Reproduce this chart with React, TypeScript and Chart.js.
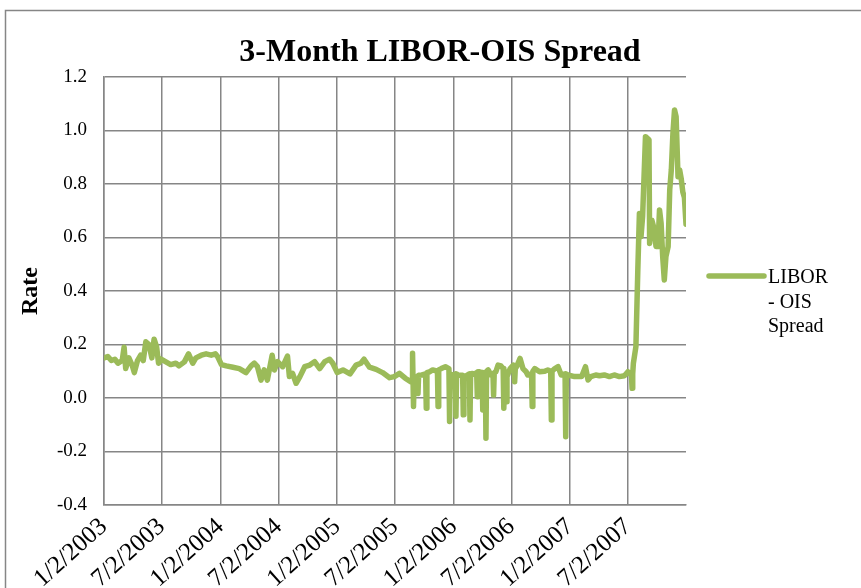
import React, { useEffect, useRef } from "react";
import { Chart, registerables } from "chart.js";

Chart.register(...registerables);

const chartTitle = "3-Month LIBOR-OIS Spread";
const seriesName = "LIBOR - OIS Spread";
const legendLines = ["LIBOR", "- OIS", "Spread"];
const yAxisTitle = "Rate";

const xTickLabels = [
  "1/2/2003", "7/2/2003", "1/2/2004", "7/2/2004", "1/2/2005",
  "7/2/2005", "1/2/2006", "7/2/2006", "1/2/2007", "7/2/2007",
];
const xAxisEnd = "12/31/2007";

const yMin = -0.4;
const yMax = 1.2;
const yStep = 0.2;

const dates = [
  "1/2/2003", "1/14/2003", "1/25/2003", "2/5/2003", "2/15/2003", "2/28/2003", "3/6/2003", "3/11/2003",
  "3/21/2003", "4/1/2003", "4/7/2003", "4/17/2003", "4/27/2003", "5/5/2003", "5/13/2003", "5/23/2003",
  "6/1/2003", "6/8/2003", "6/16/2003", "6/22/2003", "6/30/2003", "7/15/2003", "7/30/2003", "8/15/2003",
  "8/25/2003", "9/11/2003", "9/24/2003", "10/7/2003", "10/17/2003", "11/3/2003", "11/18/2003", "12/4/2003",
  "12/17/2003", "12/24/2003", "1/5/2004", "1/20/2004", "2/10/2004", "3/1/2004", "3/22/2004", "4/7/2004",
  "4/17/2004", "4/27/2004", "5/8/2004", "5/18/2004", "5/28/2004", "6/12/2004", "6/19/2004", "6/29/2004",
  "7/15/2004", "7/30/2004", "8/5/2004", "8/15/2004", "8/26/2004", "9/7/2004", "9/22/2004", "10/8/2004",
  "10/23/2004", "11/8/2004", "11/24/2004", "12/9/2004", "12/19/2004", "1/2/2005", "1/20/2005", "2/11/2005",
  "3/2/2005", "3/17/2005", "3/27/2005", "4/13/2005", "5/4/2005", "5/24/2005", "6/15/2005", "6/30/2005",
  "7/16/2005", "8/3/2005", "8/20/2005", "8/25/2005", "8/26/2005", "8/29/2005", "8/31/2005", "9/7/2005",
  "9/10/2005", "9/12/2005", "9/14/2005", "9/24/2005", "10/6/2005", "10/8/2005", "10/10/2005", "10/18/2005",
  "10/28/2005", "11/12/2005", "11/14/2005", "11/16/2005", "11/24/2005", "12/7/2005", "12/18/2005", "12/20/2005",
  "12/22/2005", "12/30/2005", "1/7/2006", "1/9/2006", "1/11/2006", "1/15/2006", "1/30/2006", "2/1/2006",
  "2/3/2006", "2/6/2006", "2/20/2006", "2/22/2006", "2/24/2006", "3/2/2006", "3/9/2006", "3/15/2006",
  "3/17/2006", "3/19/2006", "3/22/2006", "4/1/2006", "4/3/2006", "4/5/2006", "4/8/2006", "4/11/2006",
  "4/13/2006", "4/15/2006", "4/20/2006", "4/29/2006", "5/5/2006", "5/7/2006", "5/9/2006", "5/14/2006",
  "5/21/2006", "5/30/2006", "6/6/2006", "6/8/2006", "6/12/2006", "6/15/2006", "6/18/2006", "6/20/2006",
  "6/28/2006", "7/8/2006", "7/10/2006", "7/12/2006", "7/14/2006", "7/18/2006", "7/29/2006", "8/7/2006",
  "8/17/2006", "8/22/2006", "9/3/2006", "9/5/2006", "9/7/2006", "9/13/2006", "9/28/2006", "10/14/2006",
  "10/24/2006", "11/2/2006", "11/4/2006", "11/6/2006", "11/15/2006", "11/25/2006", "12/5/2006", "12/17/2006",
  "12/19/2006", "12/21/2006", "12/26/2006", "1/16/2007", "2/7/2007", "2/19/2007", "2/27/2007", "3/8/2007",
  "3/23/2007", "4/4/2007", "4/19/2007", "5/5/2007", "5/20/2007", "6/5/2007", "6/21/2007", "7/2/2007",
  "7/6/2007", "7/13/2007", "7/15/2007", "7/17/2007", "7/19/2007", "7/27/2007", "8/2/2007", "8/7/2007",
  "8/12/2007", "8/17/2007", "8/26/2007", "9/6/2007", "9/8/2007", "9/15/2007", "9/23/2007", "9/28/2007",
  "10/4/2007", "10/9/2007", "10/14/2007", "10/19/2007", "10/24/2007", "10/29/2007", "11/5/2007", "11/10/2007",
  "11/15/2007", "11/20/2007", "11/25/2007", "11/30/2007", "12/6/2007", "12/11/2007", "12/16/2007", "12/21/2007",
  "12/26/2007", "12/31/2007",
];

const spread = [
  0.15, 0.155, 0.14, 0.145, 0.13, 0.14, 0.19, 0.11,
  0.15, 0.12, 0.095, 0.14, 0.16, 0.14, 0.21, 0.2,
  0.15, 0.22, 0.19, 0.13, 0.145, 0.135, 0.125, 0.13,
  0.12, 0.135, 0.165, 0.13, 0.15, 0.16, 0.165, 0.16,
  0.165, 0.155, 0.125, 0.12, 0.115, 0.11, 0.095, 0.12,
  0.13, 0.117, 0.067, 0.105, 0.067, 0.16, 0.105, 0.136,
  0.117, 0.157, 0.08, 0.092, 0.055, 0.08, 0.117, 0.123,
  0.136, 0.11, 0.136, 0.145, 0.13, 0.095, 0.105, 0.09,
  0.123, 0.13, 0.145, 0.115, 0.107, 0.095, 0.076, 0.08,
  0.092, 0.074, 0.061, 0.07, 0.167, -0.032, 0.07, 0.074,
  0.08, 0.017, 0.085, 0.086, 0.09, -0.038, 0.095, 0.098,
  0.105, 0.1, -0.032, 0.105, 0.11, 0.117, 0.11, -0.088,
  0.09, 0.086, 0.09, -0.068, 0.09, 0.086, 0.085, -0.063,
  0.08, 0.08, 0.09, -0.082, 0.09, 0.092, 0.088, 0.095,
  0.005, 0.098, 0.098, 0.095, -0.045, 0.092, 0.092, 0.095,
  -0.15, 0.1, 0.105, 0.086, 0.09, 0.011, 0.095, 0.098,
  0.123, 0.12, 0.11, -0.038, 0.1, -0.014, 0.08, 0.086,
  0.11, 0.123, 0.12, 0.061, 0.11, 0.117, 0.148, 0.11,
  0.098, 0.086, 0.09, -0.032, 0.1, 0.11, 0.098, 0.1,
  0.105, 0.1, -0.082, 0.1, 0.11, 0.117, 0.086, 0.09,
  -0.145, 0.09, 0.086, 0.08, 0.08, 0.117, 0.067, 0.08,
  0.086, 0.083, 0.086, 0.08, 0.086, 0.08, 0.083, 0.098,
  0.092, 0.085, 0.036, 0.09, 0.129, 0.192, 0.479, 0.69,
  0.603, 0.678, 0.977, 0.965, 0.578, 0.665, 0.628, 0.566,
  0.566, 0.703, 0.653, 0.528, 0.441, 0.528, 0.566, 0.778,
  0.853, 0.989, 1.077, 1.052, 0.827, 0.853, 0.82, 0.77,
  0.75, 0.65,
];

const FONT = '"Liberation Serif", "Times New Roman", serif';
const GRID = "#868686";
const LINE = "#9BBB59";

function dayIndex(s: string): number {
  const [m, d, y] = s.split("/").map(Number);
  return Math.round((Date.UTC(y, m - 1, d) - Date.UTC(2003, 0, 2)) / 86400000);
}

const decorPlugin = {
  id: "decor",
  beforeDraw(chart: any) {
    const ctx = chart.ctx;
    ctx.save();
    ctx.fillStyle = "#ffffff";
    ctx.fillRect(0, 0, chart.width, chart.height);
    ctx.restore();
  },
  afterDraw(chart: any) {
    const ctx = chart.ctx;
    const area = chart.chartArea;
    ctx.save();
    // outer frame
    ctx.strokeStyle = GRID;
    ctx.lineWidth = 1.5;
    ctx.strokeRect(5.5, 10.5, 1000, 1000);
    // title
    ctx.fillStyle = "#000";
    ctx.font = `bold 32px ${FONT}`;
    ctx.textAlign = "center";
    ctx.textBaseline = "alphabetic";
    ctx.fillText(chartTitle, 440, 61);
    // legend
    const ly = 276;
    const lx = area.right + 23;
    ctx.strokeStyle = chart.data.datasets[0].borderColor;
    ctx.lineWidth = 5.5;
    ctx.lineCap = "round";
    ctx.beginPath();
    ctx.moveTo(lx, ly);
    ctx.lineTo(lx + 55, ly);
    ctx.stroke();
    ctx.font = `20px ${FONT}`;
    ctx.textAlign = "left";
    ctx.fillStyle = "#000";
    const baselines = [283, 308, 332];
    legendLines.forEach((t, i) => ctx.fillText(t, lx + 59, baselines[i]));
    ctx.restore();
  },
};

export default function App() {
  const canvasRef = useRef<HTMLCanvasElement | null>(null);

  useEffect(() => {
    const canvas = canvasRef.current;
    if (!canvas) return;
    const points = dates.map((d, i) => ({ x: dayIndex(d), y: spread[i] }));
    const tickDays = xTickLabels.map(dayIndex);

    const chart = new Chart(canvas, {
      type: "line",
      data: {
        datasets: [
          {
            label: seriesName,
            data: points,
            borderColor: LINE,
            backgroundColor: LINE,
            borderWidth: 5.5,
            pointRadius: 0,
            tension: 0,
            borderJoinStyle: "round",
            borderCapStyle: "round",
            fill: false,
          },
        ],
      },
      options: {
        animation: false,
        responsive: false,
        devicePixelRatio: 1,
        layout: { padding: { top: 77, right: 175, left: 0, bottom: 0 } },
        plugins: {
          legend: { display: false },
          title: { display: false },
          tooltip: { enabled: false },
        },
        scales: {
          x: {
            type: "linear",
            min: 0,
            max: dayIndex(xAxisEnd),
            afterBuildTicks: (s: any) => {
              s.ticks = tickDays.map((v) => ({ value: v }));
            },
            afterFit: (s: any) => {
              s.height = 83;
            },
            grid: { color: GRID, drawTicks: false, lineWidth: 1.5 },
            border: { color: GRID, width: 1.5 },
            ticks: {
              autoSkip: false,
              minRotation: 42,
              maxRotation: 42,
              padding: 7,
              color: "#000",
              font: { family: FONT, size: 25 },
              callback: (v: any) => {
                const i = tickDays.indexOf(Number(v));
                return i >= 0 ? xTickLabels[i] : "";
              },
            },
          },
          y: {
            min: yMin,
            max: yMax,
            afterFit: (s: any) => {
              s.width = 104;
            },
            grid: { color: GRID, drawTicks: false, lineWidth: 1.5 },
            border: { color: GRID, width: 1.5 },
            ticks: {
              stepSize: yStep,
              padding: 17,
              color: "#000",
              font: { family: FONT, size: 19 },
              callback: (v: any) => Number(v).toFixed(1),
            },
            title: {
              display: true,
              text: yAxisTitle,
              color: "#000",
              font: { family: FONT, size: 24, weight: "bold" },
              padding: { top: 16, bottom: 0 },
            },
          },
        },
      },
      plugins: [decorPlugin],
    } as any);

    return () => chart.destroy();
  }, []);

  return (
    <div style={{ position: "absolute", left: 0, top: 0, width: 861, height: 588 }}>
      <canvas ref={canvasRef} width={861} height={588} />
    </div>
  );
}
